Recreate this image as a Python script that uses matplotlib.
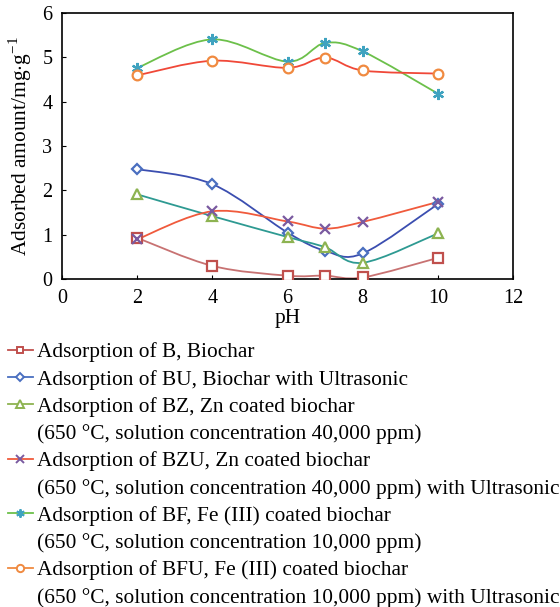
import numpy as np
import matplotlib
matplotlib.use('Agg')
import matplotlib.pyplot as plt
from matplotlib.path import Path
from matplotlib.patches import PathPatch
from matplotlib.lines import Line2D

plt.rcParams['font.family'] = ['Liberation Serif', 'DejaVu Serif']
plt.rcParams['mathtext.fontset'] = 'custom'
plt.rcParams['mathtext.rm'] = 'Liberation Serif'

ph = [2, 4, 6, 7, 8, 10]
b_vals = [0.93, 0.30, 0.08, 0.08, 0.04, 0.48]
bu_vals = [2.48, 2.14, 1.05, 0.64, 0.58, 1.69]
bz_vals = [1.91, 1.42, 0.95, 0.72, 0.37, 1.03]
bzu_vals = [0.90, 1.53, 1.30, 1.14, 1.29, 1.74]
bf_vals = [4.76, 5.40, 4.90, 5.32, 5.13, 4.18]
bfu_vals = [4.59, 4.92, 4.76, 4.99, 4.70, 4.63]

labels = ['Adsorption of B, Biochar',
          'Adsorption of BU, Biochar with Ultrasonic',
          'Adsorption of BZ, Zn coated biochar\n(650 °C, solution concentration 40,000 ppm)',
          'Adsorption of BZU, Zn coated biochar\n(650 °C, solution concentration 40,000 ppm) with Ultrasonic',
          'Adsorption of BF, Fe (III) coated biochar\n(650 °C, solution concentration 10,000 ppm)',
          'Adsorption of BFU, Fe (III) coated biochar\n(650 °C, solution concentration 10,000 ppm) with Ultrasonic']

series = [b_vals, bu_vals, bz_vals, bzu_vals, bf_vals, bfu_vals]
markers = ['s', 'D', '^', 'x', (6, 2, 0), 'o']
msizes = [6.5, 5, 7, 7.5, 8, 7]
mcolors = ['#c0504d', '#4a6fc0', '#8db351', '#7a5aa0', '#3fa3c0', '#f08a40']
lcolors = ['#c87272', '#3b4eb0', '#2e9a92', '#f05a3c', '#6cc04a', '#f04838']
legcolors = ['#c0504d', '#4a6fc0', '#8db351', '#f05a3c', '#6cc04a', '#f08a40']


def smooth_path(x, y):
    # bezier through points (excel style smoothed line)
    pts = np.column_stack([x, y]).astype(float)
    n = len(pts)
    verts = [pts[0]]
    codes = [Path.MOVETO]
    for i in range(n - 1):
        p0 = pts[i - 1] if i > 0 else pts[i]
        p1 = pts[i]
        p2 = pts[i + 1]
        p3 = pts[i + 2] if i + 2 < n else pts[i + 1]
        c1 = p1 + (p2 - p0) / 6.0
        c2 = p2 - (p3 - p1) / 6.0
        verts += [c1, c2, p2]
        codes += [Path.CURVE4] * 3
    return Path(verts, codes)


fig = plt.figure(figsize=(5.6, 6.07), dpi=100)
ax = fig.add_axes([0.111, 0.540, 0.805, 0.439])

handles = []
leg_labels = []
for vals, mk, ms, mc, lc, lg, lab in zip(series, markers, msizes, mcolors, lcolors, legcolors, labels):
    ax.add_patch(PathPatch(smooth_path(ph, vals), fill=False, edgecolor=lc, lw=1.3, zorder=2))
    ax.plot(ph, vals, linestyle='none', marker=mk, ms=ms, mfc='white', mec=mc, mew=1.6, zorder=3)
    h, = ax.plot([], [], color=lg, lw=1.3, marker=mk, ms=ms * 0.75, mfc='white', mec=mc, mew=1.4)
    # handle sits on first line only, continuation lines get a blank handle
    lines = lab.split('\n')
    handles.append(h)
    leg_labels.append(lines[0])
    for extra in lines[1:]:
        handles.append(Line2D([], [], color='none'))
        leg_labels.append(extra)

ax.set_xlim(0, 12)
ax.set_ylim(0, 6)
ax.set_xticks([0, 2, 4, 6, 8, 10, 12])
ax.set_yticks([0, 1, 2, 3, 4, 5, 6])
ax.tick_params(direction='in', length=3, labelsize=14.5, pad=7)
for s in ax.spines.values():
    s.set_linewidth(1.2)
ax.set_xlabel('pH', fontsize=15.4, labelpad=1)
ax.set_ylabel('Adsorbed amount/mg$\\cdot$g$^{-1}$', fontsize=15.4, labelpad=6)

leg = fig.legend(handles, leg_labels, loc='upper left', bbox_to_anchor=(0.014, 0.436),
                 frameon=False, fontsize=15.4, handlelength=1.17, handletextpad=0.2,
                 labelspacing=0.34, borderaxespad=0.0, borderpad=0.0)

plt.savefig('out.png', dpi=100)
